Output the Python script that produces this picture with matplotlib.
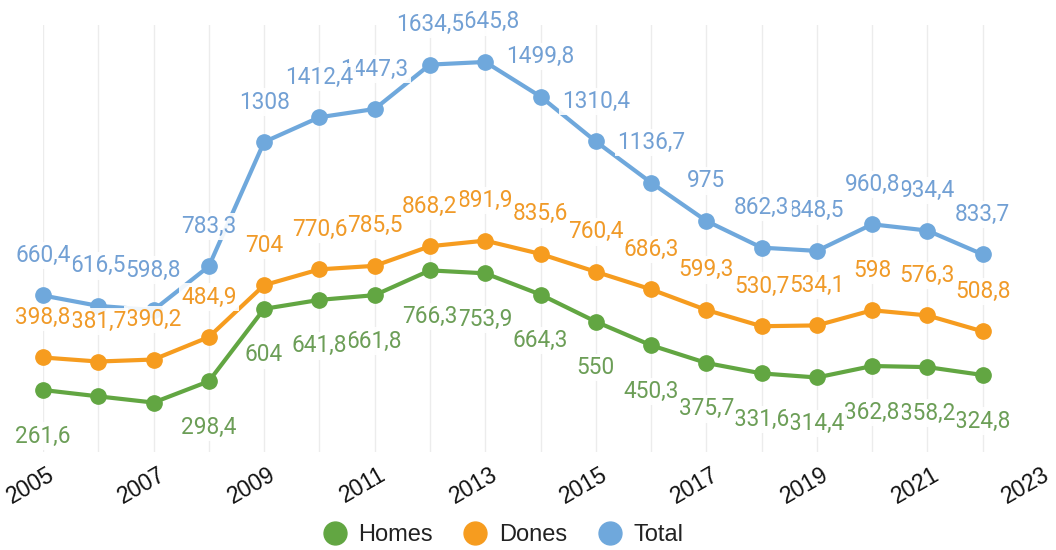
import matplotlib
matplotlib.use('Agg')
import matplotlib.pyplot as plt
from matplotlib.lines import Line2D
import matplotlib.transforms as mtransforms

years = list(range(2005, 2023))
total = [660.4, 616.5, 598.8, 783.3, 1308, 1412.4, 1447.3, 1634.5, 1645.8,
         1499.8, 1310.4, 1136.7, 975, 862.3, 848.5, 960.8, 934.4, 833.7]
dones = [398.8, 381.7, 390.2, 484.9, 704, 770.6, 785.5, 868.2, 891.9,
         835.6, 760.4, 686.3, 599.3, 530.7, 534.1, 598, 576.3, 508.8]
homes = [261.6, 234.8, 208.6, 298.4, 604, 641.8, 661.8, 766.3, 753.9,
         664.3, 550, 450.3, 375.7, 331.6, 314.4, 362.8, 358.2, 324.8]
# labels the original chart leaves out (they collide)
homes_hidden = [1, 2]
tick_years = list(range(2005, 2024, 2))

series = [
    ('Homes', homes, '#62a642', '#6c9e57', -46, homes_hidden),
    ('Dones', dones, '#f69c1f', '#f09a28', 40, []),
    ('Total', total, '#6fa8dc', '#72a0d4', 40, []),
]

fig = plt.figure(figsize=(10.56, 5.5), dpi=100)
ax = fig.add_axes([43 / 1056, 98 / 550, 995 / 1056, 426.6 / 550])
ax.set_xlim(2005, 2023)
ax.set_ylim(0, 1800)

for y in years:
    ax.axvline(y, color='#ececec', lw=1, zorder=0)

n = len(years)
for name, vals, col, tcol, off, hidden in series:
    ax.plot(years, vals, color=col, lw=3, marker='o', markersize=11,
            zorder=3, clip_on=False)
    for i, (x, v) in enumerate(zip(years, vals)):
        if i in hidden:
            continue
        txt = ('%g' % v).replace('.', ',')
        ax.annotate(txt, (x, v), xytext=(0, off), textcoords='offset pixels',
                    ha='center', va='center', fontsize=16.3, family='Roboto',
                    color=tcol, zorder=10 + (n - i),
                    bbox=dict(boxstyle='square,pad=0.1', fc='white', ec='none', alpha=0.9))

for s in ax.spines.values():
    s.set_visible(False)
ax.set_yticks([])
ax.set_xticks(tick_years)
ax.set_xticklabels([str(t) for t in tick_years], rotation=30, ha='center',
                   fontsize=16.5, family='Liberation Sans', color='#111111')
ax.tick_params(axis='x', length=0, pad=8)
shift = mtransforms.ScaledTranslation(-12 / 100, 0, fig.dpi_scale_trans)
for lab in ax.get_xticklabels():
    lab.set_transform(lab.get_transform() + shift)

handles = [Line2D([], [], ls='none', marker='o', markersize=16.5, color=c)
           for _, _, c, _, _, _ in series]
fig.legend(handles, [s[0] for s in series], loc='center', bbox_to_anchor=(503 / 1056, 1 - 535 / 550),
           ncol=3, frameon=False, handlelength=1.0, handletextpad=0.5, columnspacing=1.3,
           prop={'family': 'Liberation Sans', 'size': 17}, labelcolor='#222222')

fig.savefig('out.png', dpi=100)
